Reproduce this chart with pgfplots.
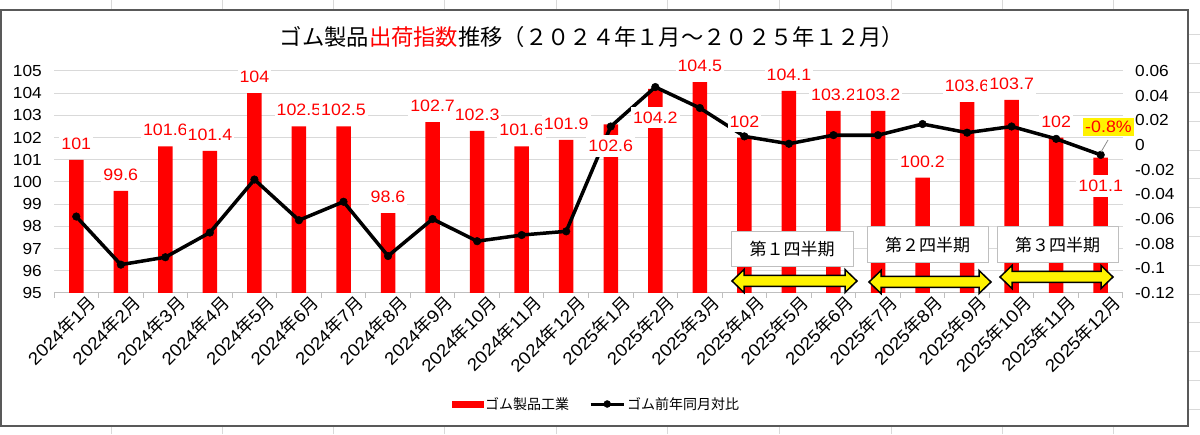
\documentclass[border=0pt]{standalone}
\usepackage{fontspec}
\setmainfont{Liberation Sans}[FakeStretch=1.08]
\newfontfamily\jp{Noto Sans CJK JP}
\usepackage{pgfplots}
\pgfplotsset{compat=1.18}
\usepackage{pgfplotstable}

\newcommand{\ym}[2]{#1{\jp 年}#2{\jp 月}}

\pgfplotstableread{
x v ly
0 101 101.72
1 99.6 100.34
2 101.6 102.33
3 101.4 102.12
4 104 104.73
5 102.5 103.23
6 102.5 103.23
7 98.6 99.33
8 102.7 103.42
9 102.3 103.02
10 101.6 102.33
11 101.9 102.63
12 102.6 101.62
13 104.2 102.91
14 104.5 105.23
15 102 102.72
16 104.1 104.84
17 103.2 103.92
18 103.2 103.92
19 100.2 100.93
20 103.6 104.32
21 103.7 104.42
22 102 102.72
23 101.1 99.83
}\bars

\pgfplotstableread{
x r
0 -0.058
1 -0.097
2 -0.091
3 -0.071
4 -0.028
5 -0.061
6 -0.046
7 -0.090
8 -0.060
9 -0.078
10 -0.073
11 -0.070
12 0.015
13 0.047
14 0.030
15 0.007
16 0.001
17 0.008
18 0.008
19 0.017
20 0.010
21 0.015
22 0.005
23 -0.008
}\ratio

\pgfplotsset{
  base/.style={
    at={(54pt,141pt)}, anchor=south west, scale only axis,
    width=1069pt, height=222pt,
    xmin=-0.5, xmax=23.5,
    /pgf/number format/assume math mode=true,
  }
}

\begin{document}
\begin{tikzpicture}[x=1pt,y=1pt]
\fill[white] (0,0) rectangle (1200,434);
\useasboundingbox (0,0) rectangle (1200,434);
% spreadsheet cells outside the chart
\foreach \gx in {111,222,333,444,556,667,779,891,1002,1113}{
  \draw[black!15, line width=1pt] (\gx,424) -- (\gx,434);
  \draw[black!15, line width=1pt] (\gx,0) -- (\gx,8);
}
\foreach \k in {0,...,13}{
  \pgfmathsetmacro{\yy}{434-(35+28.8*\k)}
  \draw[black!15, line width=1pt] (1189,\yy) -- (1200,\yy);
}
\draw[white, fill=white] (1,8) rectangle (1188,424);
\draw[black!65, line width=1.5pt] (1,8) rectangle (1188,424);

% --- bars (left axis)
\begin{axis}[base,
  ymin=95, ymax=105,
  axis x line*=bottom, axis y line*=left,
  x axis line style={draw=black!25, line width=1pt},
  y axis line style={draw=none},
  ytick={95,96,...,105},
  ymajorgrids, grid style={black!15, line width=1pt},
  major tick length=0pt,
  xtick={0,...,23},
  minor xtick={-0.5,0.5,...,23.5},
  minor tick length=5pt, tick align=outside,
  minor tick style={black!25, line width=1pt},
  xticklabels={\ym{2024}{1},\ym{2024}{2},\ym{2024}{3},\ym{2024}{4},\ym{2024}{5},\ym{2024}{6},\ym{2024}{7},\ym{2024}{8},\ym{2024}{9},\ym{2024}{10},\ym{2024}{11},\ym{2024}{12},\ym{2025}{1},\ym{2025}{2},\ym{2025}{3},\ym{2025}{4},\ym{2025}{5},\ym{2025}{6},\ym{2025}{7},\ym{2025}{8},\ym{2025}{9},\ym{2025}{10},\ym{2025}{11},\ym{2025}{12}},
  xticklabel style={font=\fontsize{17.5}{17.5}\selectfont, rotate=45, anchor=north east, inner sep=0pt, yshift=-8pt, xshift=7pt},
  yticklabel style={font=\fontsize{16}{16}\selectfont, anchor=east, inner sep=0pt, xshift=-12pt},
]
\addplot[ybar, bar width=14.5pt, bar shift=0pt, fill=red, draw=none] table[x=x, y=v] {\bars};
\end{axis}

% --- ratio line (right axis)
\begin{axis}[base,
  ymin=-0.12, ymax=0.06,
  axis x line=none, axis y line*=right,
  y axis line style={draw=none},
  major tick length=0pt,
  ytick={-0.12,-0.1,-0.08,-0.06,-0.04,-0.02,0,0.02,0.04,0.06},
  yticklabels={-0.12,-0.1,-0.08,-0.06,-0.04,-0.02,0,0.02,0.04,0.06},
  yticklabel style={font=\fontsize{16}{16}\selectfont, anchor=west, inner sep=0pt, xshift=12pt},
]
\addplot[black, line width=3.5pt, mark=*, mark size=3.8pt, mark options={fill=black, line width=0.5pt}] table[x=x, y=r] {\ratio};
\end{axis}

% --- labels, legend (overlay axis)
\begin{axis}[base,
  ymin=95, ymax=105,
  hide axis, clip=false,
  legend style={at={(0.5075,-0.5)}, anchor=center, draw=none, fill=none,
    font=\jp\fontsize{14}{14}\selectfont, legend columns=2,
    /tikz/every even column/.append style={column sep=18pt}},
  legend cell align=left,
]
\addplot[forget plot, only marks, mark=none, nodes near coords, nodes near coords align={center},
  point meta=explicit symbolic,
  every node near coord/.style={anchor=center, text=red, fill=white, inner xsep=2pt, inner ysep=5pt,
    font=\fontsize{16.5}{16.5}\selectfont}]
  table[x=x, y=ly, meta=v] {\bars};
\addlegendimage{legend image code/.code={\fill[red] (0pt,-3pt) rectangle (31pt,3pt);}}
\addlegendentry{ゴム製品工業}
\addlegendimage{legend image code/.code={\draw[black, line width=3pt] (0pt,0pt) -- (33pt,0pt); \fill[black] (16.5pt,0pt) circle (3.5pt);}}
\addlegendentry{ゴム前年同月対比}
\end{axis}

% --- title
\node[font=\jp\fontsize{22.3}{23}\selectfont, anchor=center] at (592,397)
  {ゴム製品\textcolor{red}{出荷指数}推移（２０２４年１月～２０２５年１２月）};

% --- callout for last value
\draw[black!45, line width=0.8pt] (1108,294) -- (1101,282);
\node[fill=yellow, text=red, font=\fontsize{16.5}{16.5}\selectfont, inner xsep=2pt, inner ysep=3.5pt] at (1108.5,307) {-0.8\%};

% --- quarter boxes
\node[draw=black!25, fill=white, line width=1pt, minimum width=122pt, minimum height=35pt, font=\jp\fontsize{17}{17}\selectfont] at (792,185) {第１四半期};
\node[draw=black!25, fill=white, line width=1pt, minimum width=121pt, minimum height=36pt, font=\jp\fontsize{17}{17}\selectfont] at (927.5,189) {第２四半期};
\node[draw=black!25, fill=white, line width=1pt, minimum width=121pt, minimum height=36pt, font=\jp\fontsize{17}{17}\selectfont] at (1057.5,189) {第３四半期};

% --- double arrows
\newcommand{\dblarrow}[3]{%
  \filldraw[fill=yellow, draw=black, line width=1.5pt, line join=miter]
    (#1,#3) -- ({#1+12},{#3+11.5}) -- ({#1+12},{#3+5.5}) -- ({#2-12},{#3+5.5}) -- ({#2-12},{#3+11.5})
    -- (#2,#3) -- ({#2-12},{#3-11.5}) -- ({#2-12},{#3-5.5}) -- ({#1+12},{#3-5.5}) -- ({#1+12},{#3-11.5}) -- cycle;}
\dblarrow{732}{857}{153}
\dblarrow{869}{991}{152}
\dblarrow{1000}{1113}{157}
\end{tikzpicture}
\end{document}
